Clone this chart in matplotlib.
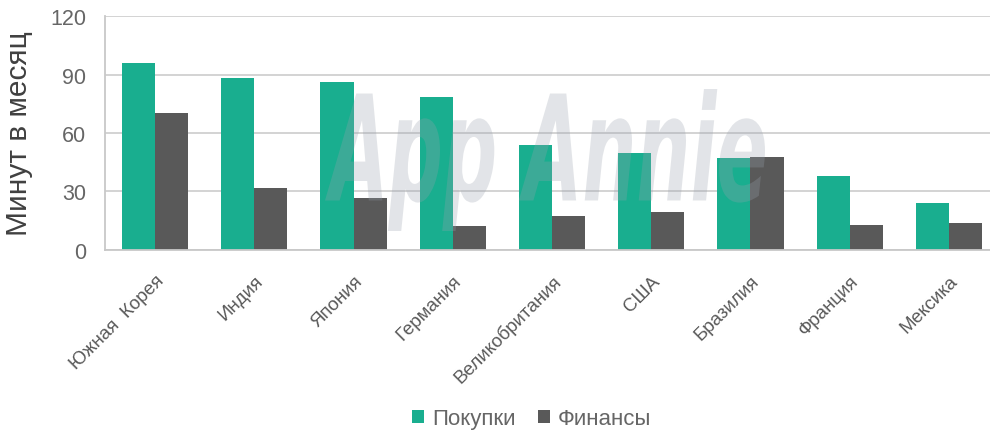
import matplotlib
matplotlib.use("Agg")
import matplotlib.pyplot as plt
import numpy as np
from matplotlib.textpath import TextPath
from matplotlib.patches import PathPatch
from matplotlib.font_manager import FontProperties
import matplotlib.transforms as mtransforms

categories = ["Южная  Корея", "Индия", "Япония", "Германия", "Великобритания",
              "США", "Бразилия", "Франция", "Мексика"]
shopping = [96, 88.5, 86, 78.5, 54, 49.5, 47, 38, 23.8]
finance = [70.5, 31.5, 26.5, 12.2, 17.3, 19.5, 47.5, 12.8, 13.5]
series_names = ["Покупки", "Финансы"]
yticks = [0, 30, 60, 90, 120]

green = "#19AE8F"
gray = "#595959"
text_col = "#595959"

plt.rcParams['font.family'] = ['Liberation Sans', 'DejaVu Sans']

fig = plt.figure(figsize=(9.9, 4.35), dpi=100)
ax = fig.add_axes([105.4/990, 1-250.7/435, 893.2/990, (250.7-17.3)/435])

x = np.arange(len(categories))
w = 0.333
ax.bar(x - w/2, shopping, width=w, color=green, label=series_names[0], zorder=2)
ax.bar(x + w/2, finance, width=w, color=gray, label=series_names[1], zorder=2)

ax.set_xlim(-0.5, len(categories) - 0.5)
ax.set_ylim(0, 120)
ax.set_yticks(yticks)
ax.yaxis.grid(True, color="#D0D0D0", linewidth=1.3, zorder=0)
ax.set_axisbelow(True)
for s in ["top", "right"]:
    ax.spines[s].set_visible(False)
for s in ["left", "bottom"]:
    ax.spines[s].set_color("#C8C8C8")
    ax.spines[s].set_linewidth(1.3)
ax.tick_params(axis='both', length=0, colors="#666666")
ax.tick_params(axis='y', labelsize=15.5, pad=14)
ax.set_xticks(x)
ax.set_xticklabels(categories, rotation=45, ha='right', rotation_mode='anchor',
                   fontsize=13.5, color=text_col)
ax.tick_params(axis='x', pad=16)
ax.set_ylabel("Минут в месяц", fontsize=21.5, color="#404040", labelpad=12)

leg = fig.legend(loc='lower center', bbox_to_anchor=(0.537, -0.035), ncol=2, frameon=False,
                 fontsize=16, handlelength=0.55, handleheight=0.55, handletextpad=0.35,
                 columnspacing=1.0, labelcolor="#666666")

# watermark
fp = FontProperties(family='DejaVu Sans', style='italic', weight='bold')
tp = TextPath((0, 0), "App Annie", size=100, prop=fp)
ext = tp.get_extents()
x0, x1 = 325, 765
ytop, ybot = 90, 232
sx = (x1 - x0) / ext.width
sy = (ybot - ytop) / ext.height
trans = mtransforms.Affine2D().translate(-ext.x0, -ext.y0).scale(sx, sy).translate(x0, 435 - ybot)
patch = PathPatch(tp, transform=trans, facecolor=(0.6, 0.63, 0.68), edgecolor='none',
                  alpha=0.28, zorder=5)
fig.patches.append(patch)
patch.set_figure(fig)

fig.savefig("out.png", dpi=100)
